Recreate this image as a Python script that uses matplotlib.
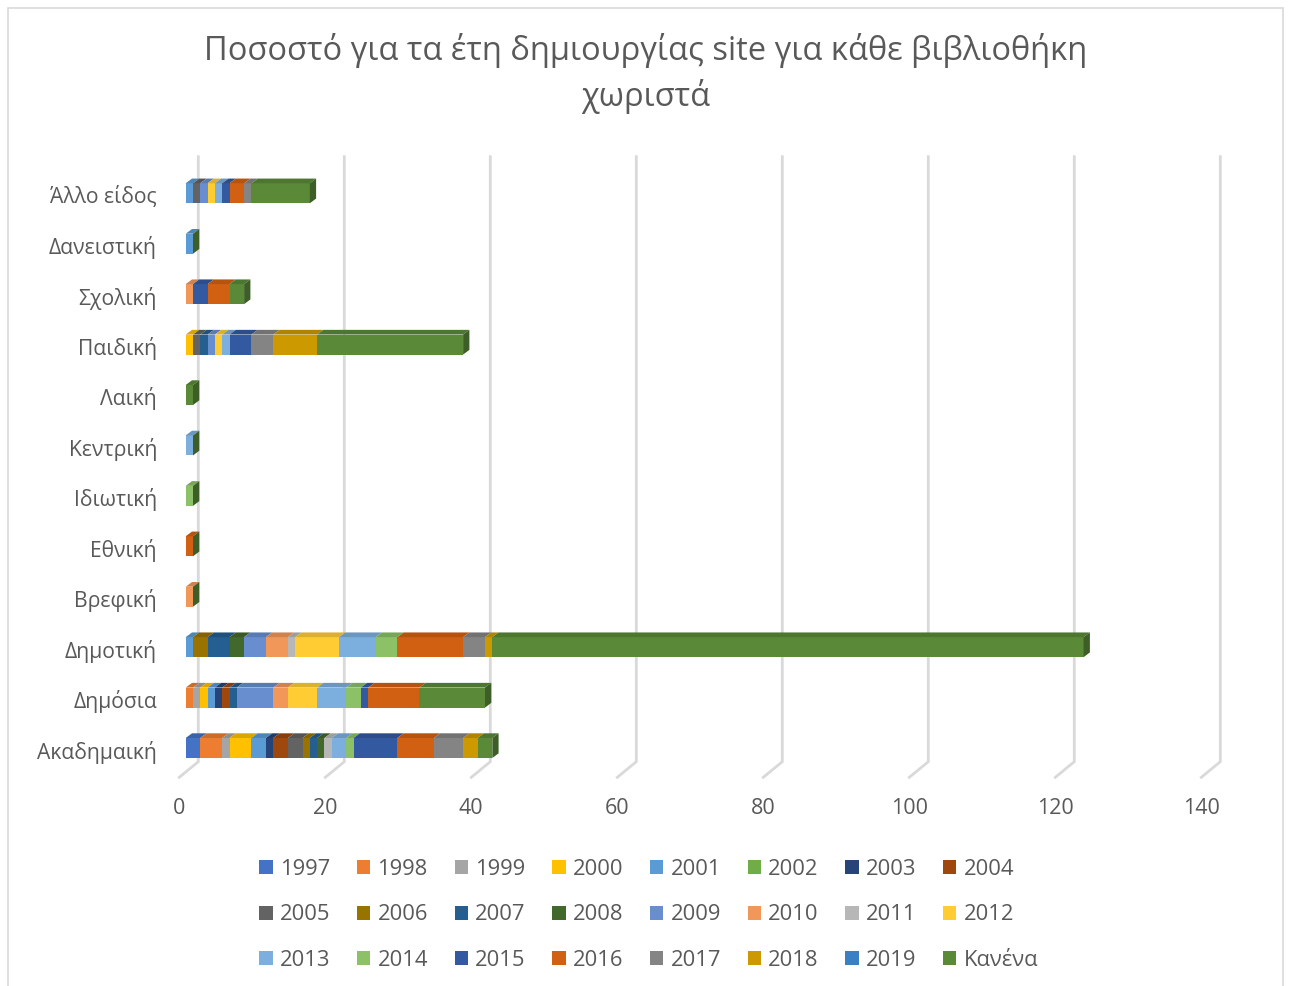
import numpy as np
import matplotlib
matplotlib.use("Agg")
import matplotlib.pyplot as plt
from matplotlib.patches import Polygon, Patch, Rectangle

# ---------------------------------------------------------------
# Datos (numero de bibliotecas por ano de creacion del site)
# ---------------------------------------------------------------
categories = ["Ακαδημαική", "Δημόσια", "Δημοτική", "Βρεφική", "Εθνική",
              "Ιδιωτική", "Κεντρική", "Λαική", "Παιδική", "Σχολική",
              "Δανειστική", "Άλλο είδος"]
years = ["1997", "1998", "1999", "2000", "2001", "2002", "2003", "2004",
         "2005", "2006", "2007", "2008", "2009", "2010", "2011", "2012",
         "2013", "2014", "2015", "2016", "2017", "2018", "2019", "Κανένα"]

#             97 98 99 00 01 02 03 04 05 06 07 08 09 10 11 12 13 14 15 16 17 18 19 K
akadimaiki = [2, 3, 1, 3, 2, 0, 1, 2, 2, 1, 1, 1, 0, 0, 1, 0, 2, 1, 6, 5, 4, 2, 0, 2]
dimosia    = [0, 1, 1, 1, 1, 0, 1, 1, 0, 0, 1, 0, 5, 2, 0, 4, 4, 2, 1, 7, 0, 0, 0, 9]
dimotiki   = [0, 0, 0, 0, 1, 0, 0, 0, 0, 2, 3, 2, 3, 3, 1, 6, 5, 3, 0, 9, 3, 1, 0, 81]
vrefiki    = [0, 0, 0, 0, 0, 0, 0, 0, 0, 0, 0, 0, 0, 1, 0, 0, 0, 0, 0, 0, 0, 0, 0, 0]
ethniki    = [0, 0, 0, 0, 0, 0, 0, 0, 0, 0, 0, 0, 0, 0, 0, 0, 0, 0, 0, 1, 0, 0, 0, 0]
idiotiki   = [0, 0, 0, 0, 0, 0, 0, 0, 0, 0, 0, 0, 0, 0, 0, 0, 0, 1, 0, 0, 0, 0, 0, 0]
kentriki   = [0, 0, 0, 0, 0, 0, 0, 0, 0, 0, 0, 0, 0, 0, 0, 0, 1, 0, 0, 0, 0, 0, 0, 0]
laiki      = [0, 0, 0, 0, 0, 0, 0, 0, 0, 0, 0, 0, 0, 0, 0, 0, 0, 0, 0, 0, 0, 0, 0, 1]
paidiki    = [0, 0, 0, 1, 0, 0, 0, 0, 1, 0, 1, 0, 1, 0, 0, 1, 1, 0, 3, 0, 3, 6, 0, 20]
sxoliki    = [0, 0, 0, 0, 0, 0, 0, 0, 0, 0, 0, 0, 0, 1, 0, 0, 0, 0, 2, 3, 0, 0, 0, 2]
daneistiki = [0, 0, 0, 0, 1, 0, 0, 0, 0, 0, 0, 0, 0, 0, 0, 0, 0, 0, 0, 0, 0, 0, 0, 0]
allo       = [0, 0, 0, 0, 1, 0, 0, 0, 1, 0, 0, 0, 1, 0, 0, 1, 1, 0, 1, 2, 1, 0, 0, 8]

x_ticks = [0, 20, 40, 60, 80, 100, 120, 140]

# ---------------------------------------------------------------
# Estilo
# ---------------------------------------------------------------
colors = ["#4472C4", "#ED7D31", "#A5A5A5", "#FFC000", "#5B9BD5", "#70AD47",
          "#264478", "#9E480E", "#636363", "#997300", "#255E91", "#43682B",
          "#698ED0", "#F1975A", "#B7B7B7", "#FFCD33", "#7CAFDD", "#8CC168",
          "#335AA1", "#D26012", "#848484", "#CC9A00", "#3C80C4", "#5A8A38"]
TXT = "#595959"
GRID = "#D9D9D9"
FONT = "Open Sans"
plt.rcParams["font.family"] = [FONT, "DejaVu Sans"]

W, H = 1291, 986
PX_X = 7.3            # pixeles por unidad
PX_Y = 50.43          # pixeles por categoria
X0, Y0 = 185.7, 748.0  # origen (cara frontal) en pixeles

BAR_H = 20 / PX_Y
DX, DY = 6.3 / PX_X, 4.7 / PX_Y          # profundidad de las barras
GX = 12.6 / PX_X                          # plano de fondo (grid)
FX, FY = -6.4 / PX_X, -29.3 / PX_Y        # extremo delantero del suelo
G_BOT, G_TOP = -13.7 / PX_Y, 591.3 / PX_Y


def shade(c, f):
    r, g, b = matplotlib.colors.to_rgb(c)
    return (r * f, g * f, b * f)


fig = plt.figure(figsize=(W / 100, H / 100), dpi=100)
fig.patch.set_facecolor("white")
ax = fig.add_axes([0, 0, 1, 1])
ax.set_xlim(-X0 / PX_X, (W - X0) / PX_X)
ax.set_ylim((Y0 - H) / PX_Y, Y0 / PX_Y)
ax.axis("off")

# marco exterior del grafico
fig.patches.append(Rectangle((7.5 / W, -0.01), (1283 - 7.5) / W, (H - 7.5) / H + 0.01,
                             transform=fig.transFigure, fill=False,
                             edgecolor="#D9D9D9", linewidth=1.2))

# --- grid (plano de fondo + suelo) ---
for v in x_ticks:
    ax.plot([v + FX, v + GX, v + GX], [FY, G_BOT, G_TOP], color=GRID,
            linewidth=2.0, solid_joinstyle="miter", zorder=1)
    ax.text(v + FX, -61 / PX_Y, str(v), ha="center", va="center",
            fontsize=15.5, color=TXT)

# --- barras apiladas 3D ---
data = [akadimaiki, dimosia, dimotiki, vrefiki, ethniki, idiotiki,
        kentriki, laiki, paidiki, sxoliki, daneistiki, allo]
vals = np.array(data, dtype=float)
ypos = np.arange(len(categories))
left = np.zeros(len(categories))
for j, yr in enumerate(years):
    w = vals[:, j]
    ax.barh(ypos, w, left=left, height=BAR_H, color=colors[j],
            linewidth=0, zorder=3)
    for i in range(len(categories)):
        if w[i] <= 0:
            continue
        x0, x1 = left[i], left[i] + w[i]
        yt = ypos[i] + BAR_H / 2
        ax.add_patch(Polygon([(x0, yt), (x1, yt), (x1 + DX, yt + DY),
                              (x0 + DX, yt + DY)], closed=True,
                             facecolor=shade(colors[j], 0.86),
                             linewidth=0, zorder=3))
    left = left + w

# cara lateral (ultima serie)
for i in range(len(categories)):
    xe = left[i]
    yb, yt = ypos[i] - BAR_H / 2, ypos[i] + BAR_H / 2
    ax.add_patch(Polygon([(xe, yb), (xe, yt), (xe + DX, yt + DY),
                          (xe + DX, yb + DY)], closed=True,
                         facecolor=shade(colors[-1], 0.68),
                         linewidth=0, zorder=4))

# etiquetas de categorias
for i, c in enumerate(categories):
    ax.text((157 - X0) / PX_X, ypos[i] - 4 / PX_Y, c, ha="right", va="center",
            fontsize=15.2, color=TXT)

# titulo
fig.text(0.5, 1 - 50 / H, "Ποσοστό για τα έτη δημιουργίας site για κάθε βιβλιοθήκη",
         ha="center", va="center", fontsize=23.5, color=TXT)
fig.text(0.5, 1 - 97 / H, "χωριστά", ha="center", va="center",
         fontsize=23.5, color=TXT)

# leyenda (orden por filas, 8 columnas)
handles = [Patch(facecolor=colors[j], label=years[j]) for j in range(len(years))]
order = [j + 8 * r for j in range(8) for r in range(3)]
leg = fig.legend([handles[k] for k in order], [years[k] for k in order],
                 ncol=8, loc="upper left", bbox_to_anchor=(259.3 / W, 1 - 859 / H),
                 frameon=False, fontsize=15.8, handlelength=0.61, handleheight=0.61,
                 handletextpad=0.32, columnspacing=1.22, labelspacing=1.11,
                 borderpad=0, borderaxespad=0)
for t in leg.get_texts():
    t.set_color(TXT)

fig.savefig("out.png", dpi=100, facecolor="white")
